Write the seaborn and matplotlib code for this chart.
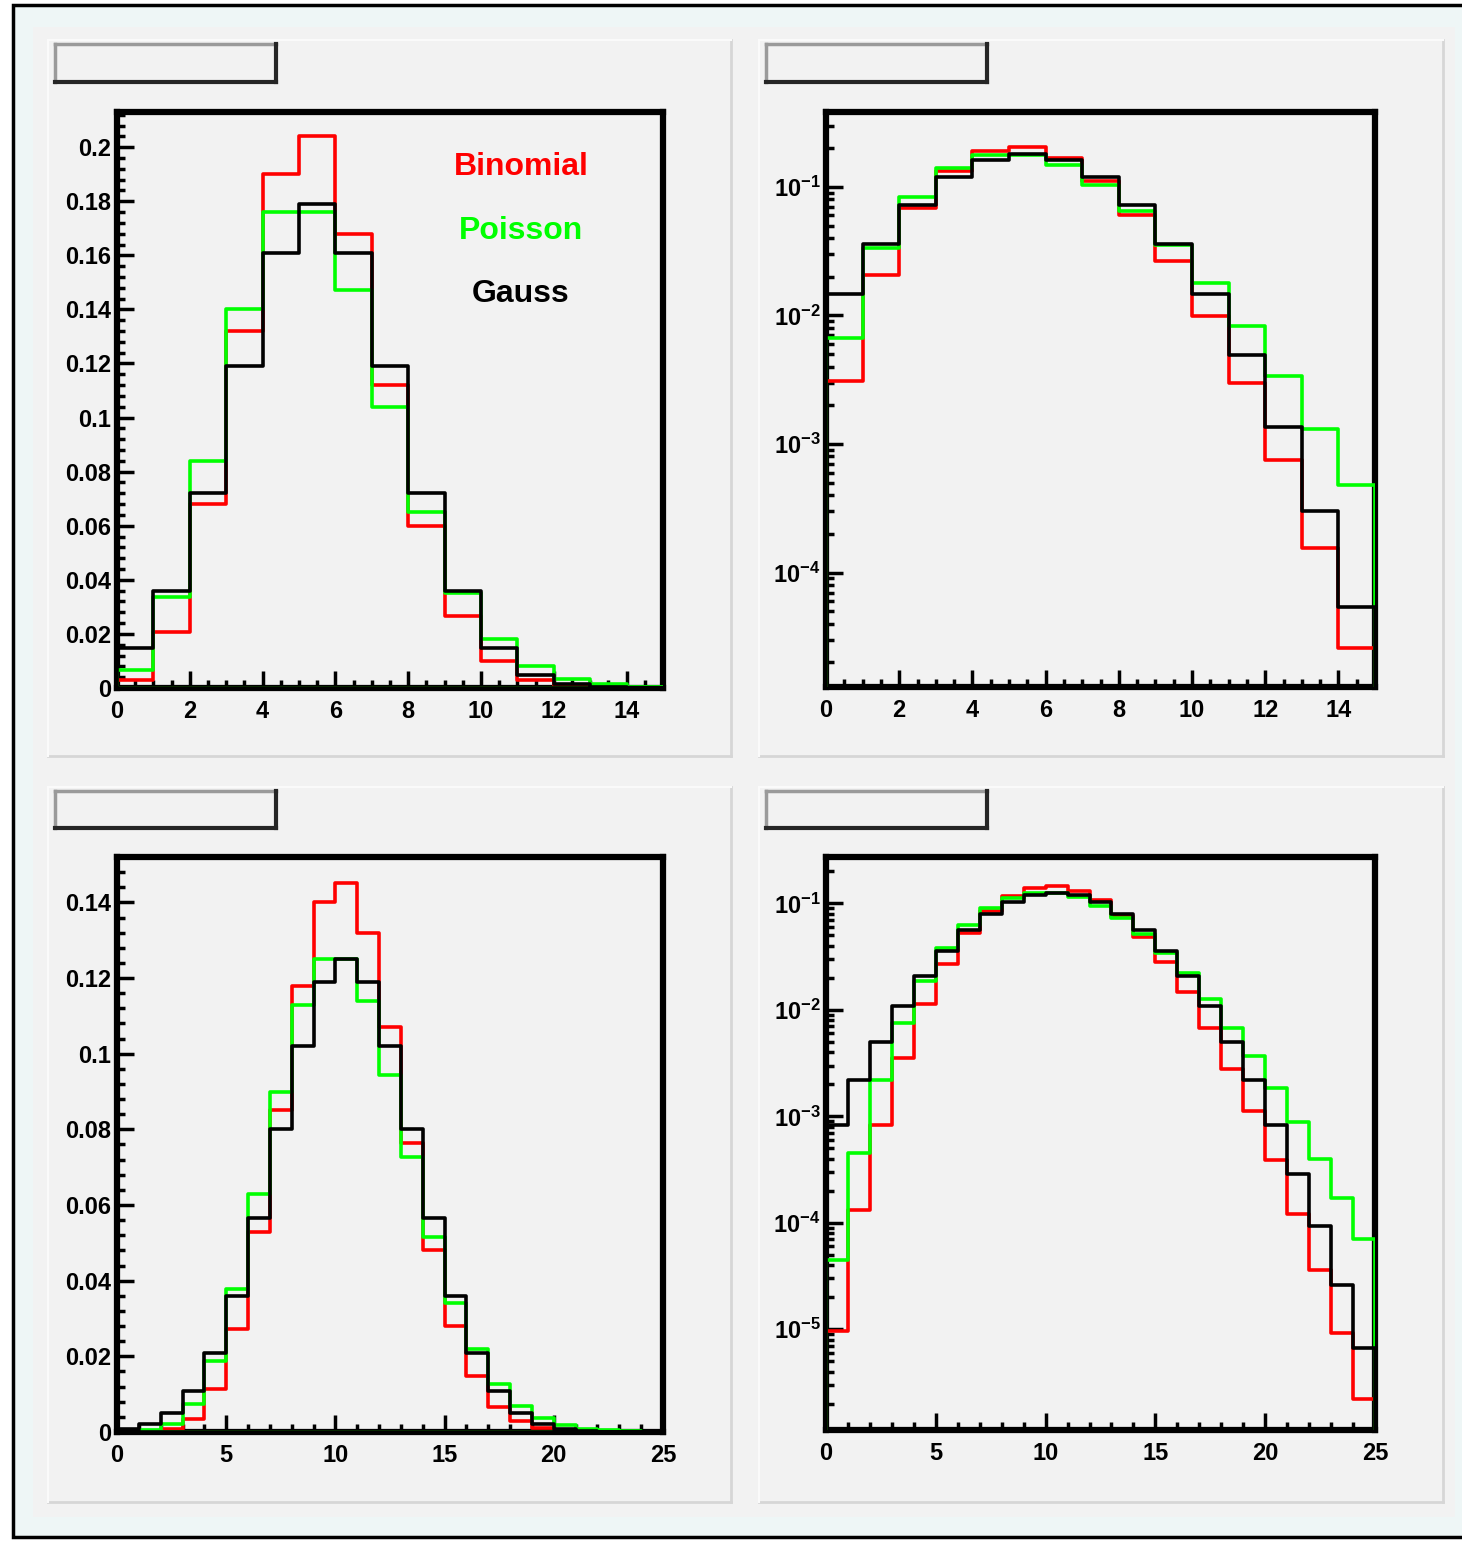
import numpy as np
import matplotlib
matplotlib.use("Agg")
import matplotlib.pyplot as plt
from matplotlib.ticker import MultipleLocator, FuncFormatter, LogLocator, NullFormatter
from matplotlib.patches import Rectangle
from matplotlib.lines import Line2D
import seaborn as sns

# bin edges (bins of width 1)
edges_15 = list(range(0, 16))
edges_25 = list(range(0, 26))

# bin contents, n=15 case (top row)
binomial_15 = [0.0031, 0.0206, 0.068, 0.132, 0.190, 0.204, 0.168, 0.112, 0.060, 0.0265,
               0.0099, 0.0030, 0.00075, 0.000155, 0.000026]
poisson_15 = [0.0067, 0.0337, 0.084, 0.140, 0.176, 0.176, 0.147, 0.104, 0.065, 0.0353,
              0.018, 0.0083, 0.0034, 0.00132, 0.00048]
gauss_15 = [0.0148, 0.036, 0.072, 0.119, 0.161, 0.179, 0.161, 0.119, 0.072, 0.036,
            0.0148, 0.0049, 0.00135, 0.0003, 0.000054]

# n=25 case (bottom row)
binomial_25 = [9.7e-6, 1.32e-4, 8.3e-4, 0.0035, 0.0113, 0.0272, 0.0528, 0.085, 0.118, 0.140,
               0.145, 0.132, 0.107, 0.0765, 0.048, 0.028, 0.0148, 0.0067, 0.0028, 0.00112,
               3.9e-4, 1.21e-4, 3.6e-5, 9.2e-6, 2.2e-6]
poisson_25 = [4.5e-5, 4.5e-4, 0.0022, 0.0075, 0.0188, 0.0378, 0.063, 0.090, 0.113, 0.125,
              0.125, 0.114, 0.0945, 0.0726, 0.0515, 0.0340, 0.0220, 0.0126, 0.0068, 0.0037,
              0.00186, 8.9e-4, 4.0e-4, 1.72e-4, 7.0e-5]
gauss_25 = [8.3e-4, 0.0022, 0.0050, 0.0108, 0.0208, 0.0360, 0.0567, 0.080, 0.102, 0.119,
            0.125, 0.119, 0.102, 0.080, 0.0567, 0.0360, 0.0208, 0.0108, 0.0050, 0.0022,
            8.3e-4, 2.9e-4, 9.3e-5, 2.6e-5, 6.7e-6]

names = ["Binomial", "Poisson", "Gauss"]
colors = ["#ff0000", "#00ff00", "#000000"]

plt.rcParams['font.family'] = ['Liberation Sans', 'DejaVu Sans']
plt.rcParams['font.weight'] = 'bold'
plt.rcParams['mathtext.fontset'] = 'custom'
plt.rcParams['mathtext.rm'] = 'Liberation Sans:bold'
plt.rcParams['mathtext.default'] = 'rm'

W, H = 1462, 1541
fig = plt.figure(figsize=(W / 100, H / 100), dpi=100, facecolor="white")


def fx(x):
    return x / W


def fy(y):
    return 1 - y / H


def box(x0, y0, x1, y1, z, **kw):
    fig.add_artist(Rectangle((fx(x0), fy(y1)), fx(x1) - fx(x0), fy(y0) - fy(y1),
                             transform=fig.transFigure, zorder=z, **kw))


def seg(x0, y0, x1, y1, z=-1, **kw):
    fig.add_artist(Line2D([fx(x0), fx(x1)], [fy(y0), fy(y1)],
                          transform=fig.transFigure, zorder=z, **kw))


# canvas with its border
box(13, 5, 1480, 1537, -3, facecolor="#eef6f6", edgecolor="black", linewidth=2.5)
box(33, 27, 1455, 1517, -2.5, facecolor="#f2f2f2", edgecolor="none")

# pads
for x0, y0, x1, y1 in [(48, 40, 731, 756), (759, 40, 1443, 756),
                       (48, 787, 731, 1502), (759, 787, 1443, 1502)]:
    box(x0, y0, x1, y1, -2, facecolor="#f2f2f2", edgecolor="none")
    seg(x1, y0, x1, y1, color="#d6d6d6", linewidth=2)
    seg(x0, y1, x1, y1, color="#d6d6d6", linewidth=2)
    seg(x0, y0, x1, y0, color="#fafafa", linewidth=1.5)
    seg(x0, y0, x0, y1, color="#fafafa", linewidth=1.5)

# empty title boxes
for x0, y0, x1, y1 in [(55, 44, 276, 82), (766, 44, 987, 82),
                       (55, 791, 276, 828), (766, 791, 987, 828)]:
    seg(x0, y0, x1, y0, color="#9a9a9a", linewidth=2.5)
    seg(x0, y0, x0, y1, color="#9a9a9a", linewidth=2.5)
    seg(x0, y1, x1, y1, color="#262626", linewidth=3)
    seg(x1, y0, x1, y1, color="#262626", linewidth=3)


def make_ax(x0, y0, x1, y1):
    ax = fig.add_axes([fx(x0), fy(y1), fx(x1) - fx(x0), fy(y0) - fy(y1)])
    ax.set_facecolor("#f2f2f2")
    return ax


def draw_hists(ax, edges, series):
    centers = [(a + b) / 2 for a, b in zip(edges[:-1], edges[1:])]
    for vals, col in zip(series, colors):
        sns.histplot(x=centers, weights=vals, bins=edges, element="step", fill=True,
                     facecolor="none", color=col, linewidth=2.6, ax=ax, zorder=3)
    ax.set_xlabel("")
    ax.set_ylabel("")


def style_ax(ax):
    for s in ax.spines.values():
        s.set_linewidth(4.5)
        s.set_color("black")
    ax.tick_params(which="both", direction="in", top=False, right=False,
                   width=2.5, color="black", labelsize=17)
    ax.tick_params(which="major", length=12)
    ax.tick_params(which="minor", length=6)
    ax.tick_params(axis="x", pad=9)
    ax.tick_params(axis="y", pad=4)


plain = FuncFormatter(lambda v, p: f"{v:g}")
powers = FuncFormatter(lambda v, p: r"$10^{%d}$" % round(np.log10(v)))

ax_tl = make_ax(117, 112, 663, 688)
ax_tr = make_ax(826, 112, 1375, 687)
ax_bl = make_ax(117, 857, 663, 1432)
ax_br = make_ax(826, 857, 1375, 1430)

# top left: linear, 0..15
draw_hists(ax_tl, edges_15, [binomial_15, poisson_15, gauss_15])
ax_tl.set_xlim(0, 15)
ax_tl.set_ylim(0, 0.213)
ax_tl.xaxis.set_major_locator(MultipleLocator(2))
ax_tl.xaxis.set_minor_locator(MultipleLocator(0.5))
ax_tl.yaxis.set_major_locator(MultipleLocator(0.02))
ax_tl.yaxis.set_minor_locator(MultipleLocator(0.004))
ax_tl.yaxis.set_major_formatter(plain)
style_ax(ax_tl)
for name, col, ypos in zip(names, colors, [0.905, 0.793, 0.684]):
    ax_tl.text(0.74, ypos, name, color=col, fontsize=23, fontweight="bold",
               ha="center", va="center", transform=ax_tl.transAxes)

# top right: log, 0..15
draw_hists(ax_tr, edges_15, [binomial_15, poisson_15, gauss_15])
ax_tr.set_yscale("log")
ax_tr.set_xlim(0, 15)
ax_tr.set_ylim(10 ** -4.89, 10 ** -0.417)
ax_tr.xaxis.set_major_locator(MultipleLocator(2))
ax_tr.xaxis.set_minor_locator(MultipleLocator(0.5))
ax_tr.yaxis.set_major_locator(LogLocator(base=10))
ax_tr.yaxis.set_minor_locator(LogLocator(base=10, subs=np.arange(2, 10)))
ax_tr.yaxis.set_major_formatter(powers)
ax_tr.yaxis.set_minor_formatter(NullFormatter())
style_ax(ax_tr)

# bottom left: linear, 0..25
draw_hists(ax_bl, edges_25, [binomial_25, poisson_25, gauss_25])
ax_bl.set_xlim(0, 25)
ax_bl.set_ylim(0, 0.152)
ax_bl.xaxis.set_major_locator(MultipleLocator(5))
ax_bl.xaxis.set_minor_locator(MultipleLocator(1))
ax_bl.yaxis.set_major_locator(MultipleLocator(0.02))
ax_bl.yaxis.set_minor_locator(MultipleLocator(0.004))
ax_bl.yaxis.set_major_formatter(plain)
style_ax(ax_bl)

# bottom right: log, 0..25
draw_hists(ax_br, edges_25, [binomial_25, poisson_25, gauss_25])
ax_br.set_yscale("log")
ax_br.set_xlim(0, 25)
ax_br.set_ylim(10 ** -5.947, 10 ** -0.564)
ax_br.xaxis.set_major_locator(MultipleLocator(5))
ax_br.xaxis.set_minor_locator(MultipleLocator(1))
ax_br.yaxis.set_major_locator(LogLocator(base=10))
ax_br.yaxis.set_minor_locator(LogLocator(base=10, subs=np.arange(2, 10)))
ax_br.yaxis.set_major_formatter(powers)
ax_br.yaxis.set_minor_formatter(NullFormatter())
style_ax(ax_br)

plt.savefig("out.png", dpi=100, facecolor=fig.get_facecolor())
